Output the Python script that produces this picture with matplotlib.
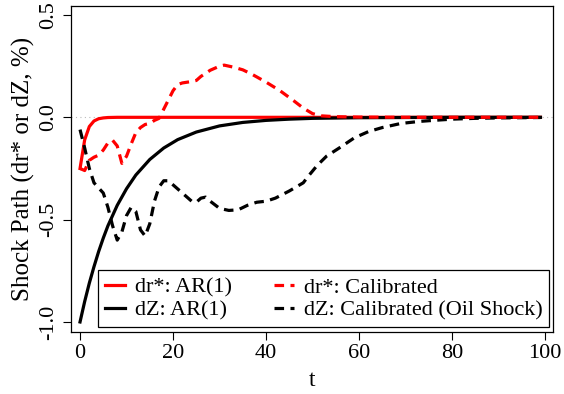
import matplotlib
matplotlib.use("Agg")
import matplotlib.pyplot as plt

plt.rcParams['font.family'] = ['Liberation Serif', 'DejaVu Serif']

# AR(1) paths
t_ar = [0, 1, 2, 3, 4, 5, 6, 8, 10, 12, 15, 18, 21, 25, 30, 35, 40, 45, 50, 60, 70, 80, 90, 99]
dr_ar = [-0.25, -0.11, -0.045, -0.018, -0.007, -0.003, -0.001, 0, 0, 0, 0, 0,
         0, 0, 0, 0, 0, 0, 0, 0, 0, 0, 0, 0]
dz_ar = [-1.0, -0.9, -0.81, -0.73, -0.656, -0.59, -0.53, -0.43, -0.349, -0.282, -0.206, -0.150,
         -0.109, -0.072, -0.042, -0.025, -0.015, -0.009, -0.005, -0.002, -0.001, 0, 0, 0]

# calibrated dr*
t_dr = [0, 1, 2, 3, 4, 5, 6, 7, 8, 9, 10, 11, 12, 13, 14, 15, 16, 17, 18, 19, 20, 21, 22,
        24, 25, 26, 28, 30, 31, 33, 35, 37, 40, 43, 46, 48, 50, 52, 55, 60, 70, 99]
dr_cal = [-0.25, -0.26, -0.21, -0.195, -0.185, -0.16, -0.125, -0.112, -0.14, -0.225, -0.19,
          -0.13, -0.075, -0.05, -0.035, -0.03, -0.015, -0.005, 0.04, 0.085, 0.13, 0.16, 0.168,
          0.175, 0.18, 0.2, 0.23, 0.25, 0.255, 0.245, 0.232, 0.21, 0.172, 0.13, 0.08, 0.045,
          0.018, 0.007, 0.003, 0.001, 0, 0]

# calibrated dZ (oil shock)
t_dz = [0, 1, 2, 3, 4, 5, 6, 7, 8, 9, 10, 11, 12, 13, 14, 15, 16, 17, 18, 19, 20, 22, 24,
        25, 26, 27, 28, 30, 32, 34, 36, 38, 40, 42, 45, 48, 49, 51, 53, 56, 59, 62, 65, 69,
        73, 76, 80, 85, 90, 99]
dz_cal = [-0.06, -0.15, -0.25, -0.32, -0.345, -0.37, -0.44, -0.53, -0.6, -0.56, -0.48, -0.44,
          -0.46, -0.55, -0.58, -0.52, -0.41, -0.34, -0.31, -0.31, -0.33, -0.37, -0.41, -0.415,
          -0.395, -0.39, -0.41, -0.445, -0.455, -0.452, -0.43, -0.415, -0.41, -0.395, -0.36,
          -0.32, -0.29, -0.235, -0.19, -0.146, -0.1, -0.07, -0.05, -0.03, -0.02, -0.015,
          -0.009, -0.005, -0.003, -0.001]

fig = plt.figure(figsize=(5.64, 3.94), dpi=100)
ax = fig.add_axes([0.1259, 0.1574, 0.8546, 0.8274])

ax.axhline(0, color='#bbbbbb', lw=0.8, ls=(0, (1, 3)), zorder=0)
ax.plot(t_ar, dr_ar, color='red', lw=2.3, label='dr*: AR(1)')
ax.plot(t_ar, dz_ar, color='black', lw=2.3, label='dZ: AR(1)')
ax.plot(t_dz, dz_cal, color='black', lw=2.3, ls=(0, (3, 2)), label='dZ: Calibrated (Oil Shock)')
ax.plot(t_dr, dr_cal, color='red', lw=2.3, ls=(0, (3, 2)), label='dr*: Calibrated')

ax.set_xlim(-1.94, 101.7)
ax.set_ylim(-1.049, 0.544)
ax.set_xticks([0, 20, 40, 60, 80, 100])
ax.set_yticks([-1.0, -0.5, 0.0, 0.5])
ax.set_yticklabels(['-1.0', '-0.5', '0.0', '0.5'], rotation=90, va='center')
ax.tick_params(labelsize=16, length=6, width=0.8, direction='out', pad=3)
ax.set_xlabel('t', fontsize=17, labelpad=5)
ax.set_ylabel('Shock Path (dr* or dZ, %)', fontsize=18, labelpad=3)
for s in ax.spines.values():
    s.set_linewidth(0.9)

h, l = ax.get_legend_handles_labels()
order = [0, 1, 3, 2]
leg = ax.legend([h[i] for i in order], [l[i] for i in order], ncol=2, fontsize=16,
                loc='lower right', bbox_to_anchor=(0.992, 0.015), fancybox=False,
                framealpha=1, edgecolor='black', handlelength=0.9, handletextpad=0.45,
                columnspacing=1.9, borderpad=0.3, labelspacing=0.1, borderaxespad=0)
leg.get_frame().set_linewidth(0.9)

fig.savefig('out.png', dpi=100)
